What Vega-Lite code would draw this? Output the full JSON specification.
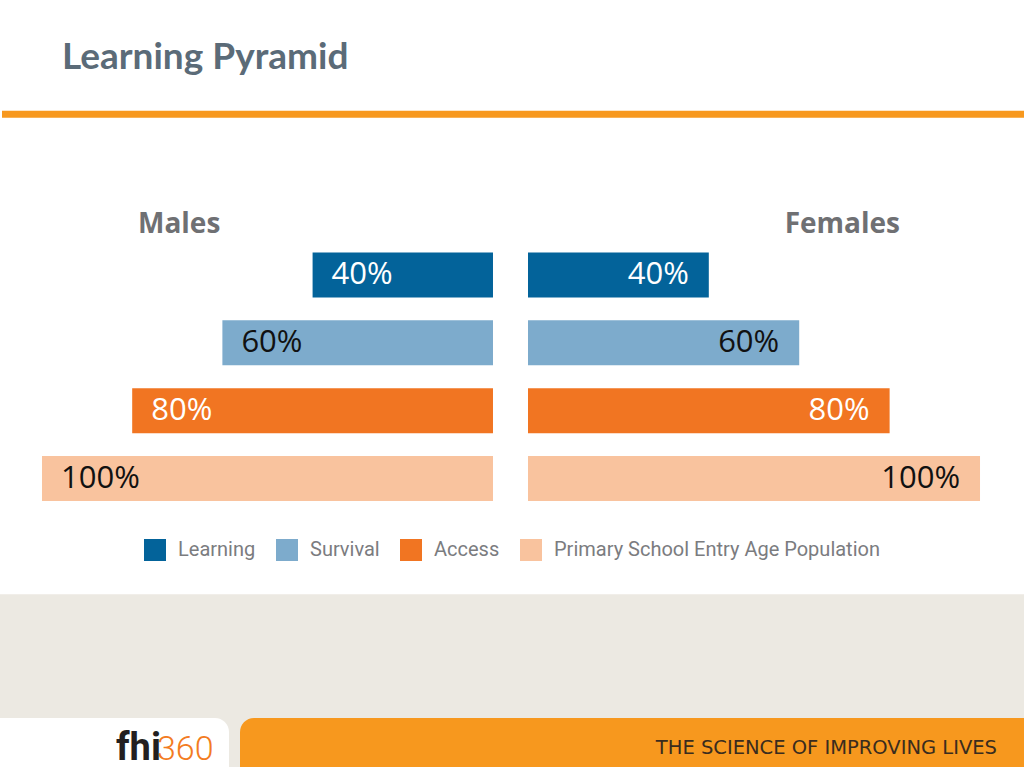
{
  "$schema": "https://vega.github.io/schema/vega-lite/v6.json",
  "width": 1024,
  "height": 768,
  "padding": 0,
  "autosize": {"type": "fit", "contains": "padding"},
  "background": "#ffffff",
  "config": {"view": {"stroke": null}},
  "datasets": {
    "pyramid": [
      {"sex": "Males", "level": "Learning", "pct": 40, "label": "40%"},
      {"sex": "Males", "level": "Survival", "pct": 60, "label": "60%"},
      {"sex": "Males", "level": "Access", "pct": 80, "label": "80%"},
      {"sex": "Males", "level": "Primary School Entry Age Population", "pct": 100, "label": "100%"},
      {"sex": "Females", "level": "Learning", "pct": 40, "label": "40%"},
      {"sex": "Females", "level": "Survival", "pct": 60, "label": "60%"},
      {"sex": "Females", "level": "Access", "pct": 80, "label": "80%"},
      {"sex": "Females", "level": "Primary School Entry Age Population", "pct": 100, "label": "100%"}
    ]
  },
  "layer": [
    {
      "layer": [
        {
          "data": {"values": [{}]},
          "mark": {"type": "rect", "color": "#ece9e2"},
          "encoding": {
            "x": {"datum": 0, "type": "quantitative", "scale": {"domain": [0, 1024], "nice": false, "zero": false}, "axis": null},
            "x2": {"datum": 1024},
            "y": {"datum": 595, "type": "quantitative", "scale": {"domain": [0, 768], "nice": false, "zero": false, "reverse": true}, "axis": null},
            "y2": {"datum": 768}
          }
        },
        {
          "data": {"values": [{}]},
          "mark": {"type": "rect", "color": "#ffffff", "cornerRadiusTopRight": 14},
          "encoding": {
            "x": {"datum": 0, "type": "quantitative"},
            "x2": {"datum": 229},
            "y": {"datum": 719, "type": "quantitative"},
            "y2": {"datum": 768}
          }
        },
        {
          "data": {"values": [{}]},
          "mark": {"type": "rect", "color": "#f7981e", "cornerRadiusTopLeft": 14},
          "encoding": {
            "x": {"datum": 240, "type": "quantitative"},
            "x2": {"datum": 1024},
            "y": {"datum": 719, "type": "quantitative"},
            "y2": {"datum": 768}
          }
        },
        {
          "data": {"values": [{}]},
          "mark": {"type": "rect", "color": "#f7981e"},
          "encoding": {
            "x": {"datum": 2, "type": "quantitative"},
            "x2": {"datum": 1024},
            "y": {"datum": 111, "type": "quantitative"},
            "y2": {"datum": 118}
          }
        },
        {
          "data": {"values": [{"t": "Learning Pyramid"}]},
          "mark": {"type": "text", "align": "left", "baseline": "alphabetic", "font": "Lato", "fontWeight": "bold", "fontSize": 37, "color": "#5b6b78"},
          "encoding": {
            "x": {"datum": 62, "type": "quantitative"},
            "y": {"datum": 69, "type": "quantitative"},
            "text": {"field": "t"}
          }
        },
        {
          "data": {"values": [{"t": "Males"}]},
          "mark": {"type": "text", "align": "left", "baseline": "alphabetic", "font": "Open Sans", "fontWeight": "bold", "fontSize": 28, "color": "#6f7073"},
          "encoding": {
            "x": {"datum": 138, "type": "quantitative"},
            "y": {"datum": 233, "type": "quantitative"},
            "text": {"field": "t"}
          }
        },
        {
          "data": {"values": [{"t": "Females"}]},
          "mark": {"type": "text", "align": "right", "baseline": "alphabetic", "font": "Open Sans", "fontWeight": "bold", "fontSize": 28, "color": "#6f7073"},
          "encoding": {
            "x": {"datum": 900, "type": "quantitative"},
            "y": {"datum": 233, "type": "quantitative"},
            "text": {"field": "t"}
          }
        },
        {
          "data": {"values": [{"t": "THE SCIENCE OF IMPROVING LIVES"}]},
          "mark": {"type": "text", "align": "right", "baseline": "alphabetic", "font": "DejaVu Sans", "fontSize": 19.5, "color": "#3a2c1e"},
          "encoding": {
            "x": {"datum": 997, "type": "quantitative"},
            "y": {"datum": 755, "type": "quantitative"},
            "text": {"field": "t"}
          }
        },
        {
          "data": {"values": [{"t": "fhi"}]},
          "mark": {"type": "text", "align": "left", "baseline": "alphabetic", "font": "Roboto", "fontWeight": "bold", "fontSize": 38, "color": "#231f20"},
          "encoding": {
            "x": {"datum": 116, "type": "quantitative"},
            "y": {"datum": 761, "type": "quantitative"},
            "text": {"field": "t"}
          }
        },
        {
          "data": {"values": [{"t": "360"}]},
          "mark": {"type": "text", "align": "left", "baseline": "alphabetic", "font": "Roboto", "fontWeight": 300, "fontSize": 34, "color": "#f37b21"},
          "encoding": {
            "x": {"datum": 157, "type": "quantitative"},
            "y": {"datum": 761, "type": "quantitative"},
            "text": {"field": "t"}
          }
        }
      ]
    },
    {
      "data": {"name": "pyramid"},
      "transform": [{"filter": "datum.sex === 'Males'"}],
      "encoding": {
        "y": {
          "field": "level", "type": "nominal",
          "sort": ["Learning", "Survival", "Access", "Primary School Entry Age Population"],
          "scale": {"type": "band", "paddingInner": 0.337, "paddingOuter": 0, "range": [252.5, 501]},
          "axis": null
        },
        "x": {
          "field": "pct", "type": "quantitative",
          "scale": {"domain": [-117.74, 109.31], "reverse": true, "nice": false, "zero": false},
          "axis": null
        }
      },
      "layer": [
        {
          "mark": {"type": "bar"},
          "encoding": {
            "x2": {"datum": 0},
            "color": {
              "field": "level", "type": "nominal",
              "scale": {
                "domain": ["Learning", "Survival", "Access", "Primary School Entry Age Population"],
                "range": ["#03639a", "#7dabcc", "#f17522", "#f9c39e"]
              },
              "legend": {
                "orient": "none", "legendX": 144, "legendY": 539, "direction": "horizontal", "columns": 4,
                "title": null, "symbolType": "square", "symbolSize": 484, "symbolStrokeWidth": 0,
                "labelFont": "Roboto", "labelFontSize": 20, "labelColor": "#7b7c7f", "labelOffset": 12,
                "columnPadding": 20, "padding": 0, "labelLimit": 600
              }
            }
          }
        },
        {
          "mark": {"type": "text", "align": "left", "baseline": "middle", "dx": 19, "font": "Open Sans", "fontSize": 31},
          "encoding": {
            "text": {"field": "label"},
            "color": {
              "condition": {"test": "datum.level === 'Survival' || datum.level === 'Primary School Entry Age Population'", "value": "#111111"},
              "value": "#ffffff"
            }
          }
        }
      ]
    },
    {
      "data": {"name": "pyramid"},
      "transform": [{"filter": "datum.sex === 'Females'"}],
      "encoding": {
        "y": {
          "field": "level", "type": "nominal",
          "sort": ["Learning", "Survival", "Access", "Primary School Entry Age Population"],
          "scale": {"type": "band", "paddingInner": 0.337, "paddingOuter": 0, "range": [252.5, 501]},
          "axis": null
        },
        "x": {
          "field": "pct", "type": "quantitative",
          "scale": {"domain": [-116.81, 109.73], "nice": false, "zero": false},
          "axis": null
        }
      },
      "layer": [
        {
          "mark": {"type": "bar"},
          "encoding": {
            "x2": {"datum": 0},
            "color": {
              "field": "level", "type": "nominal",
              "scale": {
                "domain": ["Learning", "Survival", "Access", "Primary School Entry Age Population"],
                "range": ["#03639a", "#7dabcc", "#f17522", "#f9c39e"]
              },
              "legend": {
                "orient": "none", "legendX": 144, "legendY": 539, "direction": "horizontal", "columns": 4,
                "title": null, "symbolType": "square", "symbolSize": 484, "symbolStrokeWidth": 0,
                "labelFont": "Roboto", "labelFontSize": 20, "labelColor": "#7b7c7f", "labelOffset": 12,
                "columnPadding": 20, "padding": 0, "labelLimit": 600
              }
            }
          }
        },
        {
          "mark": {"type": "text", "align": "right", "baseline": "middle", "dx": -20, "font": "Open Sans", "fontSize": 31},
          "encoding": {
            "text": {"field": "label"},
            "color": {
              "condition": {"test": "datum.level === 'Survival' || datum.level === 'Primary School Entry Age Population'", "value": "#111111"},
              "value": "#ffffff"
            }
          }
        }
      ]
    }
  ],
  "resolve": {"scale": {"x": "independent", "y": "independent"}}
}
